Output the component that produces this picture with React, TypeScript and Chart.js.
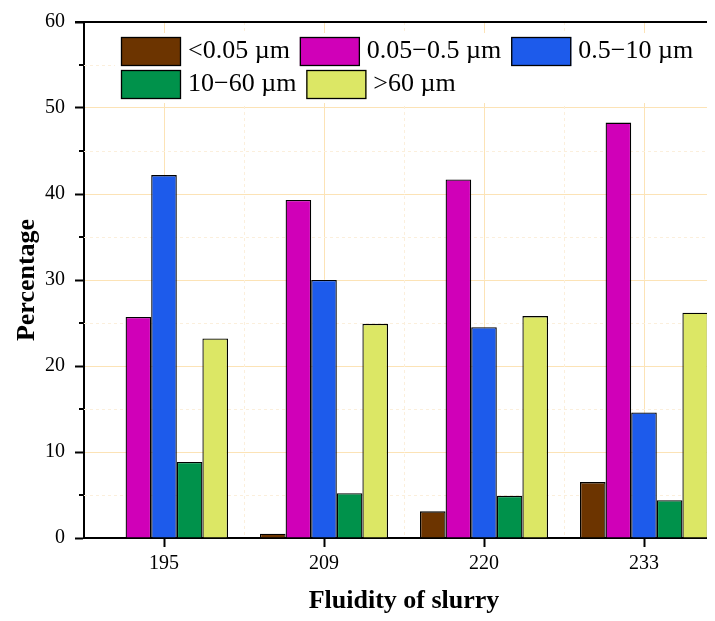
import React, { useEffect, useRef } from 'react';
import { Chart, registerables } from 'chart.js';

Chart.register(...registerables);

const categories = ['195', '209', '220', '233'];
const seriesLabels = ['<0.05 \u00b5m', '0.05\u22120.5 \u00b5m', '0.5\u221210 \u00b5m', '10\u221260 \u00b5m', '>60 \u00b5m'];
const below005 = [0, 0.5, 3.1, 6.5];
const from005to05 = [25.7, 39.3, 41.7, 48.3];
const from05to10 = [42.2, 30.0, 24.5, 14.6];
const from10to60 = [8.85, 5.2, 4.9, 4.4];
const above60 = [23.2, 24.9, 25.8, 26.2];
const seriesColors = ['#6C3400', '#D000B8', '#1D5BEB', '#00924B', '#DCE765'];
const yMin = 0;
const yMax = 60;
const yMinorStep = 5;
const yMajorStep = 10;
const xTitle = 'Fluidity of slurry';
const yTitle = 'Percentage';

const FONT = "'Liberation Serif', 'Times New Roman', serif";
const MAJOR_GRID = '#FCE3B6';
const MINOR_GRID = '#FBEFDC';

const isMajor = (v: number) => Math.abs(v % yMajorStep) < 1e-9;

const decorPlugin = {
  id: 'decor',
  beforeDatasetsDraw(chart: any) {
    const { ctx, chartArea, scales } = chart;
    const x = scales.x;
    const y = scales.y;
    ctx.save();
    ctx.strokeStyle = MINOR_GRID;
    ctx.lineWidth = 1;
    ctx.setLineDash([3, 3]);
    for (let v = yMin + yMinorStep; v < yMax; v += yMinorStep) {
      if (isMajor(v)) continue;
      const py = Math.round(y.getPixelForValue(v)) + 0.5;
      ctx.beginPath();
      ctx.moveTo(chartArea.left, py);
      ctx.lineTo(chartArea.right, py);
      ctx.stroke();
    }
    for (let i = 0; i < categories.length - 1; i++) {
      const px = Math.round((x.getPixelForValue(i) + x.getPixelForValue(i + 1)) / 2) + 0.5;
      ctx.beginPath();
      ctx.moveTo(px, chartArea.top);
      ctx.lineTo(px, chartArea.bottom);
      ctx.stroke();
    }
    ctx.setLineDash([]);

    // legend
    ctx.font = `26px ${FONT}`;
    const boxW = 60;
    const boxH = 29;
    const gapText = 7;
    const gapItem = 10;
    const rowPitch = 33;
    const startX = chartArea.left + 37;
    const startY = chartArea.top + 15;
    const rows = [[0, 1, 2], [3, 4]];
    let maxRight = startX;
    rows.forEach((row) => {
      let cx = startX;
      row.forEach((idx) => {
        cx += boxW + gapText + ctx.measureText(seriesLabels[idx]).width + gapItem;
      });
      maxRight = Math.max(maxRight, cx);
    });
    ctx.fillStyle = '#ffffff';
    ctx.fillRect(startX - 6, startY - 4, maxRight - startX + 8, rowPitch * 2 + 4);
    rows.forEach((row, r) => {
      let cx = startX;
      const ty = startY + r * rowPitch;
      row.forEach((idx) => {
        ctx.fillStyle = seriesColors[idx];
        ctx.fillRect(cx, ty, boxW, boxH);
        ctx.strokeStyle = '#000';
        ctx.lineWidth = 1.3;
        ctx.strokeRect(cx + 0.5, ty + 0.5, boxW - 1, boxH - 1);
        ctx.fillStyle = '#000';
        ctx.textBaseline = 'middle';
        ctx.textAlign = 'left';
        const tx = cx + boxW + gapText;
        ctx.fillText(seriesLabels[idx], tx, ty + boxH / 2);
        cx = tx + ctx.measureText(seriesLabels[idx]).width + gapItem;
      });
    });
    ctx.restore();
  },
  afterDraw(chart: any) {
    const { ctx, chartArea, scales, width } = chart;
    const y = scales.y;
    ctx.save();
    ctx.strokeStyle = '#000';
    ctx.lineWidth = 2;
    ctx.beginPath();
    ctx.moveTo(chartArea.left - 9, chartArea.top);
    ctx.lineTo(width, chartArea.top);
    ctx.stroke();
    ctx.beginPath();
    ctx.moveTo(chartArea.right, chartArea.top);
    ctx.lineTo(chartArea.right, chartArea.bottom);
    ctx.stroke();
    for (let v = yMin + yMinorStep; v < yMax; v += yMinorStep) {
      if (isMajor(v)) continue;
      const py = Math.round(y.getPixelForValue(v));
      ctx.beginPath();
      ctx.moveTo(chartArea.left - 5, py);
      ctx.lineTo(chartArea.left, py);
      ctx.stroke();
    }
    ctx.restore();
  },
};

export default function App() {
  const canvasRef = useRef<HTMLCanvasElement | null>(null);

  useEffect(() => {
    if (!canvasRef.current) return;
    const dataArrays = [below005, from005to05, from05to10, from10to60, above60];
    const chart = new Chart(canvasRef.current, {
      type: 'bar',
      data: {
        labels: categories,
        datasets: dataArrays.map((d, i) => ({
          label: seriesLabels[i],
          data: d,
          backgroundColor: seriesColors[i],
          borderColor: '#000',
          borderWidth: 1.3,
          borderSkipped: 'bottom',
          categoryPercentage: 0.8,
          barPercentage: 1.0,
        })),
      },
      options: {
        animation: false,
        responsive: false,
        devicePixelRatio: 1,
        layout: { padding: { left: 0, right: 16, top: 21, bottom: 0 } },
        plugins: {
          legend: { display: false },
          tooltip: { enabled: false },
        },
        scales: {
          x: {
            type: 'category',
            offset: true,
            grid: {
              offset: false,
              color: MAJOR_GRID,
              lineWidth: 1,
              tickColor: '#000',
              tickLength: 9,
              tickWidth: 2,
            },
            border: { color: '#000', width: 2 },
            ticks: {
              color: '#000',
              font: { family: FONT, size: 20 },
              padding: 5,
            },
            title: {
              display: true,
              text: xTitle,
              color: '#000',
              font: { family: FONT, size: 26, weight: 'bold' },
              padding: { top: 0, bottom: 4 },
            },
            afterFit: (scale: any) => {
              scale.height = 83;
            },
          },
          y: {
            min: yMin,
            max: yMax,
            ticks: {
              stepSize: yMinorStep,
              autoSkip: false,
              color: '#000',
              font: { family: FONT, size: 20 },
              padding: 10,
              callback: (v: any) => (isMajor(Number(v)) ? String(v) : ''),
            },
            grid: {
              color: (ctx: any) => (ctx.tick && isMajor(ctx.tick.value) ? MAJOR_GRID : 'rgba(0,0,0,0)'),
              lineWidth: 1,
              tickColor: (ctx: any) => (ctx.tick && isMajor(ctx.tick.value) ? '#000' : 'rgba(0,0,0,0)'),
              tickLength: 9,
              tickWidth: 2,
            },
            border: { color: '#000', width: 2 },
            title: {
              display: true,
              text: yTitle,
              color: '#000',
              font: { family: FONT, size: 26, weight: 'bold' },
              padding: { top: 12, bottom: 0 },
            },
            afterFit: (scale: any) => {
              scale.width = 84;
            },
          },
        },
      },
      plugins: [decorPlugin],
    });
    return () => chart.destroy();
  }, []);

  return (
    <div style={{ margin: '-8px', width: 715, height: 621, overflow: 'hidden', background: '#fff' }}>
      <canvas ref={canvasRef} width={740} height={621} style={{ display: 'block', width: 740, height: 621 }} />
    </div>
  );
}
